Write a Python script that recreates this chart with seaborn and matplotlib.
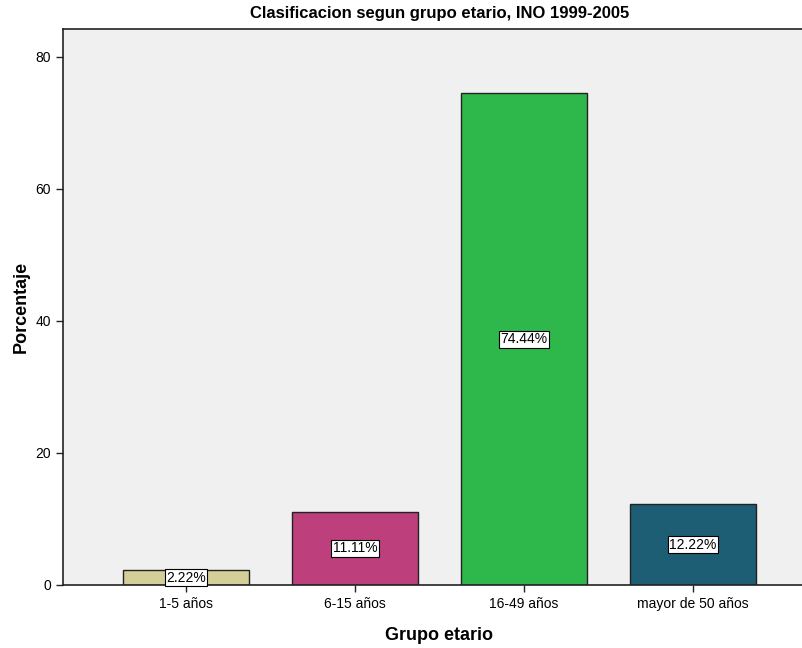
import matplotlib
matplotlib.use("Agg")
import matplotlib.pyplot as plt
import seaborn as sns
import pandas as pd

# datos
grupos = ["1-5 años", "6-15 años", "16-49 años", "mayor de 50 años"]
porcentajes = [2.22, 11.11, 74.44, 12.22]
colores = ["#D4CF98", "#BD3F7C", "#2EB84B", "#1E5E74"]
etiquetas = ["2.22%", "11.11%", "74.44%", "12.22%"]

df = pd.DataFrame({"grupo": grupos, "porcentaje": porcentajes})

sns.set_style("ticks")
plt.rcParams['font.family'] = ['Liberation Sans', 'DejaVu Sans']
plt.rcParams['text.color'] = 'black'
plt.rcParams['axes.labelcolor'] = 'black'

fig = plt.figure(figsize=(8.03, 6.48), dpi=100)
ax = fig.add_axes([63 / 803, 63 / 648, 753 / 803, 556 / 648])
ax.set_facecolor("#F0F0F0")

sns.barplot(data=df, x="grupo", y="porcentaje", hue="grupo", palette=colores,
            saturation=1, width=0.75, edgecolor="#222222", linewidth=1,
            legend=False, ax=ax)

# etiquetas en cajas blancas a media altura
for i, (v, t) in enumerate(zip(porcentajes, etiquetas)):
    ax.text(i, v / 2, t, ha="center", va="center", fontsize=10, color="black",
            bbox=dict(boxstyle="square,pad=0.1", fc="white", ec="black", lw=0.8))

ax.set_xlim(-0.728, 3.728)
ax.set_ylim(0, 84.2)
ax.set_yticks([0, 20, 40, 60, 80])
ax.tick_params(axis="both", direction="out", length=5, width=1, labelsize=10,
               colors="#222222", labelcolor="black")
for s in ax.spines.values():
    s.set_color("#222222")
    s.set_linewidth(1.2)

ax.set_title("Clasificacion segun grupo etario, INO 1999-2005", fontsize=12,
             fontweight="bold", pad=8)
ax.set_xlabel("Grupo etario", fontsize=13, fontweight="bold", labelpad=12)
ax.set_ylabel("Porcentaje", fontsize=13, fontweight="bold", labelpad=4)

fig.savefig("out.png", dpi=100)
